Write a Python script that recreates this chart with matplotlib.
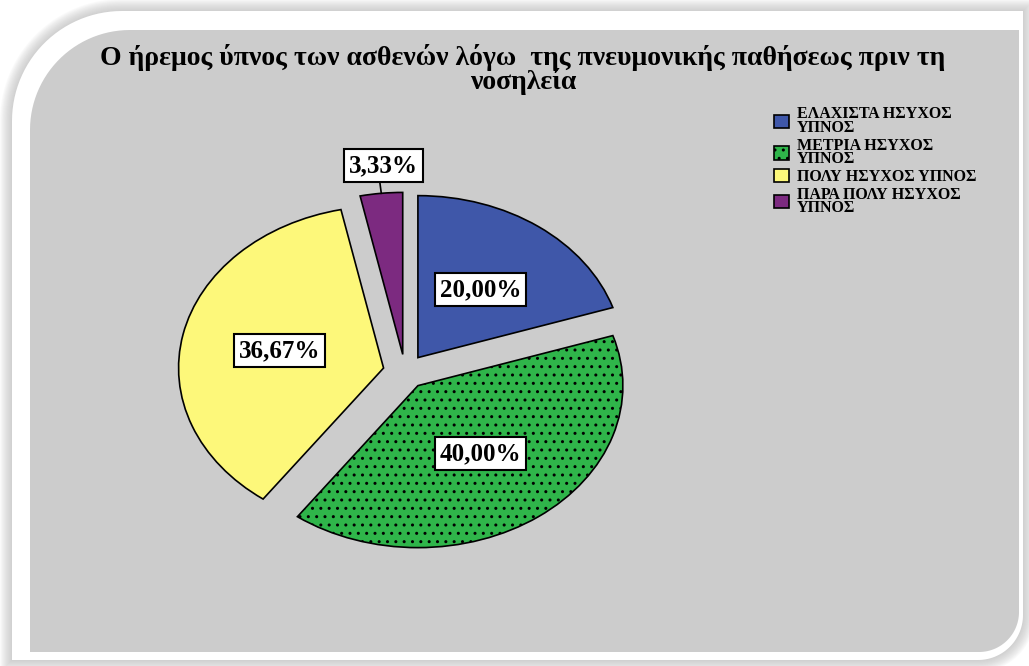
import numpy as np
import matplotlib

matplotlib.use("Agg")
import matplotlib.pyplot as plt
from matplotlib.patches import Polygon


TITLE = "Ο ήρεμος ύπνος των ασθενών λόγω  της πνευμονικής παθήσεως πριν τη\nνοσηλεία"
CATEGORIES = [
    "ΕΛΑΧΙΣΤΑ ΗΣΥΧΟΣ\nΥΠΝΟΣ",
    "ΜΕΤΡΙΑ ΗΣΥΧΟΣ\nΥΠΝΟΣ",
    "ΠΟΛΥ ΗΣΥΧΟΣ ΥΠΝΟΣ",
    "ΠΑΡΑ ΠΟΛΥ ΗΣΥΧΟΣ\nΥΠΝΟΣ",
]
COUNTS = [6, 12, 11, 1]
COLORS = ["#3f57a9", "#2fb54a", "#fdf87a", "#7c2a80"]
HATCHES = [None, "..", None, None]

SERIF = ["Liberation Serif", "DejaVu Serif"]
W, H = 1029, 666


def rounded_shape(x0, y0, x1, y1, r_tl, r_br, grow=0.0):
    # rectangle in pixel coords (y down) with rounded top-left and bottom-right corners
    x0, y0, x1, y1 = x0 - grow, y0 - grow, x1 + grow, y1 + grow
    r_tl += grow
    r_br += grow
    pts = []
    t = np.linspace(np.pi, 1.5 * np.pi, 30)
    pts += list(zip(x0 + r_tl + r_tl * np.cos(t), y0 + r_tl + r_tl * np.sin(t)))
    pts.append((x1, y0))
    t = np.linspace(0, 0.5 * np.pi, 30)
    pts += list(zip(x1 - r_br + r_br * np.cos(t), y1 - r_br + r_br * np.sin(t)))
    pts.append((x0, y1))
    return np.array(pts)


fig = plt.figure(figsize=(W / 100, H / 100), dpi=100)
fig.patch.set_facecolor("white")

bg = fig.add_axes([0, 0, 1, 1], zorder=0)
bg.set_xlim(0, W)
bg.set_ylim(H, 0)
bg.axis("off")

# soft shadow around the frame
for k in range(12, 0, -1):
    bg.add_patch(Polygon(rounded_shape(12, 11, 1023, 660, 110, 45, grow=k),
                         closed=True, facecolor="#b0b0b0", edgecolor="none", alpha=0.06))
bg.add_patch(Polygon(rounded_shape(12, 11, 1023, 660, 110, 45),
                     closed=True, facecolor="white", edgecolor="none"))
bg.add_patch(Polygon(rounded_shape(30, 30, 1019, 652, 100, 40),
                     closed=True, facecolor="#cccccc", edgecolor="none"))

fig.text(0.508, 1 - 44 / H, TITLE, ha="center", va="top", fontsize=20,
         fontweight="bold", family=SERIF, linespacing=0.85)

ax = fig.add_axes([0.1446, 0.138, 0.498, 0.608], zorder=1)
ax.patch.set_alpha(0)

wedges, _, autotexts = ax.pie(
    COUNTS,
    colors=COLORS,
    startangle=90,
    counterclock=False,
    explode=[0.107] * len(COUNTS),
    autopct=lambda p: f"{p:.2f}%".replace(".", ","),
    pctdistance=0.52,
    wedgeprops=dict(edgecolor="black", linewidth=1.2),
    textprops=dict(fontsize=18, fontweight="bold", family=SERIF),
)
ax.set_aspect("auto")
ax.set_xlim(-1.25, 1.25)
ax.set_ylim(-1.25, 1.25)

for wedge, hatch in zip(wedges, HATCHES):
    if hatch:
        wedge.set_hatch(hatch)

for txt in autotexts:
    txt.set_bbox(dict(facecolor="white", edgecolor="black", linewidth=1.5,
                      boxstyle="square,pad=0.2"))

# small slice: label outside with a leader line
w = wedges[3]
mid = np.deg2rad((w.theta1 + w.theta2) / 2)
cx, cy = w.center
autotexts[3].set_position((cx + 1.17 * np.cos(mid) + 0.03, cy + 1.17 * np.sin(mid)))
autotexts[3].set_clip_on(False)
ax.plot([cx + 1.0 * np.cos(mid), cx + 1.07 * np.cos(mid)],
        [cy + 1.0 * np.sin(mid), cy + 1.07 * np.sin(mid)],
        color="black", linewidth=1.2, clip_on=False)

leg = fig.legend(wedges, CATEGORIES, loc="upper left",
                 bbox_to_anchor=(768 / W, 1 - 100 / H), frameon=False,
                 prop=dict(family=SERIF, weight="bold", size=11.5),
                 handlelength=0.9, handleheight=0.9, handletextpad=0.5,
                 labelspacing=0.1, borderaxespad=0)
for t in leg.get_texts():
    t.set_linespacing(0.8)

fig.savefig("out.png", dpi=100)
